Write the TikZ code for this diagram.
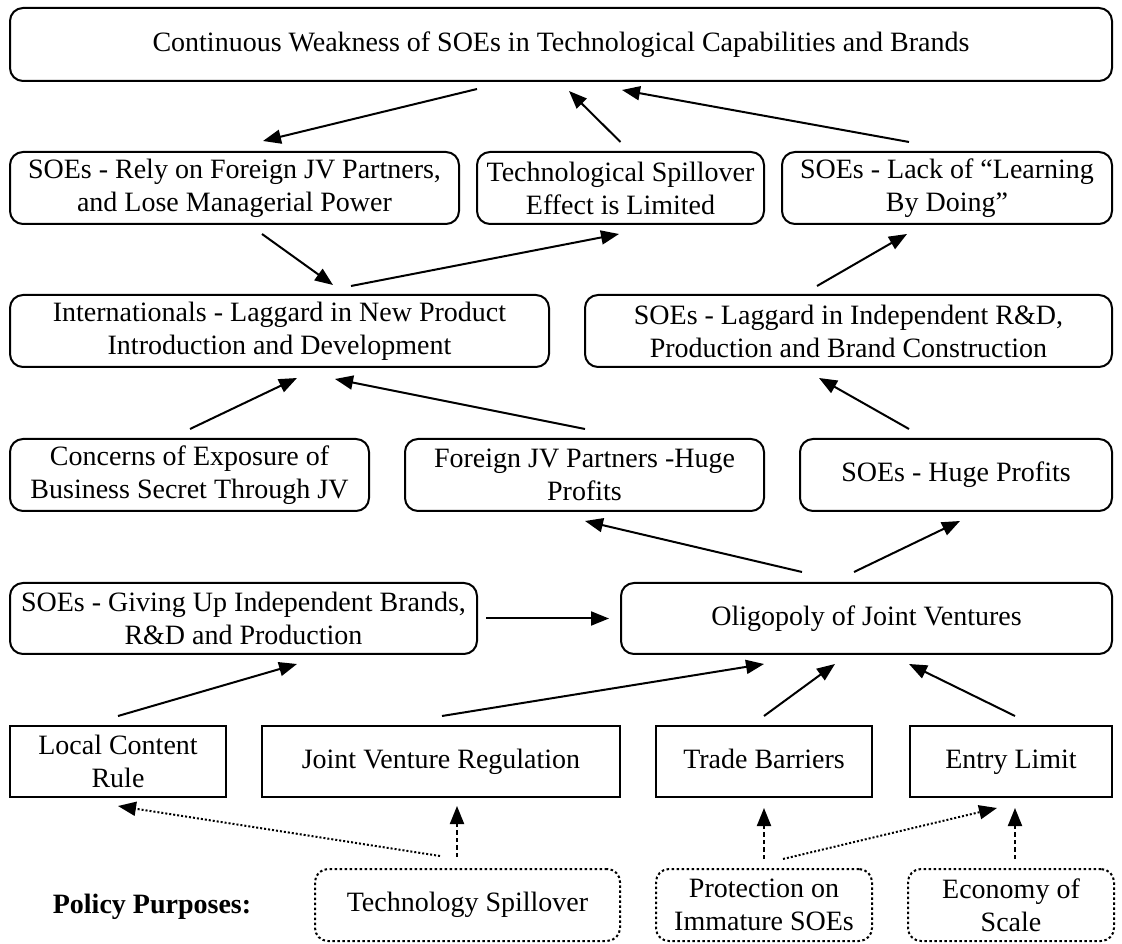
\documentclass[tikz,border=0pt]{standalone}
\usepackage{fontspec}
\setmainfont{Liberation Serif}
\usetikzlibrary{arrows.meta}
\tikzset{box/.style={draw,line width=2pt,rounded corners=13pt,inner sep=0pt,
        align=center,font=\fontsize{28}{33}\selectfont},
    sqbox/.style={box,sharp corners},
    purpose/.style={box,dash pattern=on 2.5pt off 2.5pt},
    arr/.style={line width=2pt,-{Triangle[length=18pt,width=14pt]}},
    dotarr/.style={arr,dash pattern=on 2pt off 2pt},
    dasharr/.style={arr,dash pattern=on 4.5pt off 3pt}}

\begin{document}
\begin{tikzpicture}[x=1pt,y=1pt]
      \useasboundingbox (0,0) rectangle (1122,943);
      % outcome
      \node[box,minimum width=1102pt,minimum height=73pt] (weak) at (561,898.5) {\strut Continuous Weakness of SOEs in Technological Capabilities and Brands};
      \node[box,minimum width=449pt,minimum height=72pt] (rely) at (234.5,755) {SOEs - Rely on Foreign JV Partners,\\ and Lose Managerial Power};
      \node[box,minimum width=287pt,minimum height=72pt] (spill) at (620.5,755) {Technological Spillover\\ Effect is Limited};
      \node[box,minimum width=330pt,minimum height=72pt] (learn) at (947,755) {SOEs - Lack of “Learning\\ By Doing”};
      \node[box,minimum width=539pt,minimum height=72pt] (intl) at (279.5,612) {Internationals - Laggard in New Product\\ Introduction and Development};
      \node[box,minimum width=527pt,minimum height=72pt] (lagg) at (848.5,612) {SOEs - Laggard in Independent R\&D,\\ Production and Brand Construction};
      \node[box,minimum width=359pt,minimum height=72pt] (secret) at (189.5,468) {Concerns of Exposure of\\ Business Secret Through JV};
      \node[box,minimum width=359pt,minimum height=72pt] (fprofit) at (584.5,468) {Foreign JV Partners -Huge\\ Profits};
      \node[box,minimum width=312pt,minimum height=72pt] (sprofit) at (956,468) {\strut SOEs - Huge Profits};
      \node[box,minimum width=467pt,minimum height=71pt] (giveup) at (243.5,324.5) {SOEs - Giving Up Independent Brands,\\ R\&D and Production};
      \node[box,minimum width=491pt,minimum height=71pt] (oligo) at (866.5,324.5) {\strut Oligopoly of Joint Ventures};
      % policies
      \node[sqbox,minimum width=216pt,minimum height=71pt] (local) at (118,181.5) {Local Content\\ Rule};
      \node[sqbox,minimum width=358pt,minimum height=71pt] (jvreg) at (441,181.5) {\strut Joint Venture Regulation};
      \node[sqbox,minimum width=216pt,minimum height=71pt] (trade) at (764,181.5) {\strut Trade Barriers};
      \node[sqbox,minimum width=202pt,minimum height=71pt] (entry) at (1011,181.5) {\strut Entry Limit};
      % purposes
      \node[font=\fontsize{28}{33}\selectfont\bfseries] (policy) at (152,36) {Policy Purposes:};
      \node[purpose,minimum width=305pt,minimum height=72pt] (techsp) at (467.5,38) {\strut Technology Spillover};
      \node[purpose,minimum width=216pt,minimum height=72pt] (protect) at (764,38) {Protection on\\ Immature SOEs};
      \node[purpose,minimum width=206pt,minimum height=72pt] (econ) at (1011,38) {Economy of\\ Scale};
      % causal links
      \draw[arr] ([shift={(-84,-7)}]weak.south) -- ([shift={(28.5,10)}]rely.north);
      \draw[arr] ([shift={(0,9)}]spill.north) -- ([shift={(8,-9)}]weak.south);
      \draw[arr] ([shift={(-38,9)}]learn.north) -- ([shift={(61,-8)}]weak.south);
      \draw[arr] ([shift={(27.5,-9)}]rely.south) -- ([shift={(53.5,9)}]intl.north);
      \draw[arr] ([shift={(71.5,8)}]intl.north) -- ([shift={(-1.5,-9)}]spill.south);
      \draw[arr] ([shift={(-31.5,8)}]lagg.north) -- ([shift={(-40,-9)}]learn.south);
      \draw[arr] ([shift={(0.5,9)}]secret.north) -- ([shift={(17.5,-10)}]intl.south);
      \draw[arr] ([shift={(0.5,9)}]fprofit.north) -- ([shift={(55.5,-11)}]intl.south);
      \draw[arr] ([shift={(-47,9)}]sprofit.north) -- ([shift={(-29.5,-10)}]lagg.south);
      \draw[arr] ([shift={(-64.5,10)}]oligo.north) -- ([shift={(0.5,-9)}]fprofit.south);
      \draw[arr] ([shift={(-12.5,10)}]oligo.north) -- ([shift={(4,-9)}]sprofit.south);
      \draw[arr] ([xshift=8pt]giveup.east) -- ([xshift=-11pt]oligo.west);
      \draw[arr] ([shift={(0,9)}]local.north) -- ([shift={(53.5,-9)}]giveup.south);
      \draw[arr] ([shift={(1,9)}]jvreg.north) -- ([shift={(-102.5,-9)}]oligo.south);
      \draw[arr] ([shift={(0,9)}]trade.north) -- ([shift={(-31.5,-9)}]oligo.south);
      \draw[arr] ([shift={(4,9)}]entry.north) -- ([shift={(42.5,-9)}]oligo.south);
      % purposes to policies
      \draw[dotarr] ([shift={(-27.5,12)}]techsp.north) -- ([shift={(0,-8)}]local.south);
      \draw[dasharr] ([shift={(-10.5,11)}]techsp.north) -- ([shift={(16,-8)}]jvreg.south);
      \draw[dasharr] ([shift={(0,9)}]protect.north) -- ([shift={(0,-10)}]trade.south);
      \draw[dotarr] ([shift={(19,9)}]protect.north) -- ([shift={(-14,-10)}]entry.south);
      \draw[dasharr] ([shift={(4,9)}]econ.north) -- ([shift={(4,-10)}]entry.south);
\end{tikzpicture}
\end{document}
